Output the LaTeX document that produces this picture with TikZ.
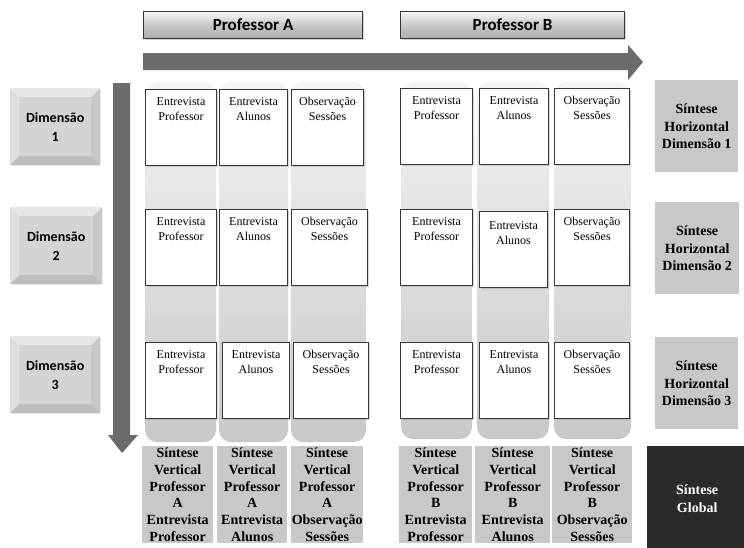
\documentclass[tikz,border=0pt]{standalone}
\usepackage{fontspec}
\setmainfont{Liberation Serif}
\newfontfamily\calibri{Carlito}
\usepackage{tikz}
\usetikzlibrary{calc,shadows}
\definecolor{sintgray}{HTML}{C8C8C8}
\definecolor{arrowgray}{HTML}{6B6B6B}
\definecolor{globaldark}{HTML}{2B2B2B}
\definecolor{boxline}{HTML}{363636}
\definecolor{striptop}{HTML}{F4F4F4}
\definecolor{stripbot}{HTML}{C8C8C8}
\newcommand{\celltext}[1]{\parbox[t][60pt][t]{66pt}{\centering #1}}
\tikzset{
  entbox/.style={draw=boxline, line width=1.1pt, fill=white, anchor=north west,
    minimum width=71pt, minimum height=76pt, inner xsep=0pt, inner ysep=8pt,
    font=\rmfamily\fontsize{12}{15}\selectfont,
    drop shadow={shadow xshift=1.2pt, shadow yshift=-1.2pt, opacity=0.3}},
  headbox/.style={draw=boxline, line width=1.2pt, anchor=north west,
    top color=white!85!sintgray, bottom color=black!32, middle color=sintgray,
    minimum width=219pt, minimum height=27pt, inner sep=0pt,
    font=\calibri\bfseries\fontsize{17}{20}\selectfont,
    drop shadow={shadow xshift=1.5pt, shadow yshift=-1.5pt, opacity=0.35}},
  dimbox/.style={fill=black!17, anchor=north west, minimum width=90pt, minimum height=77pt,
    inner sep=0pt, align=center, font=\calibri\bfseries\fontsize{14}{19}\selectfont,
    drop shadow={shadow xshift=1pt, shadow yshift=-1pt, opacity=0.15},
    path picture={
      \fill[white, opacity=0.45] (path picture bounding box.north west) -- (path picture bounding box.north east)
        -- ([shift={(-9pt,-9pt)}]path picture bounding box.north east) -- ([shift={(9pt,-9pt)}]path picture bounding box.north west) -- cycle;
      \fill[white, opacity=0.25] (path picture bounding box.north west) -- (path picture bounding box.south west)
        -- ([shift={(9pt,9pt)}]path picture bounding box.south west) -- ([shift={(9pt,-9pt)}]path picture bounding box.north west) -- cycle;
      \fill[black, opacity=0.06] (path picture bounding box.north east) -- (path picture bounding box.south east)
        -- ([shift={(-9pt,9pt)}]path picture bounding box.south east) -- ([shift={(-9pt,-9pt)}]path picture bounding box.north east) -- cycle;
      \fill[black, opacity=0.1] (path picture bounding box.south west) -- (path picture bounding box.south east)
        -- ([shift={(-9pt,9pt)}]path picture bounding box.south east) -- ([shift={(9pt,9pt)}]path picture bounding box.south west) -- cycle;
    }},
  vsint/.style={fill=sintgray, anchor=north west, inner xsep=0pt, inner ysep=1.5pt, align=center,
    font=\bfseries\fontsize{14}{16.8}\selectfont},
  hsint/.style={fill=sintgray, anchor=north west, minimum width=83pt, minimum height=92pt,
    inner sep=0pt, align=center, font=\bfseries\fontsize{14}{17.5}\selectfont},
  strip/.style={top color=striptop, bottom color=stripbot, rounded corners=12pt},
  bigarrow/.style={fill=arrowgray}
}
\begin{document}
\begin{tikzpicture}[x=1pt, y=-1pt]
  \useasboundingbox (0,0) rectangle (744,547);

  % column strips
  \shade[strip] (145,82) rectangle (216,442);
  \shade[strip] (219,82) rectangle (288,442);
  \shade[strip] (291,82) rectangle (366,442);
  \shade[strip] (401,82) rectangle (472,439);
  \shade[strip] (477,82) rectangle (549,439);
  \shade[strip] (554,82) rectangle (631,439);

  % big arrows
  \fill[bigarrow] (143,53) -- (628,53) -- (628,45) -- (643,62) -- (628,80) -- (628,70) -- (143,70) -- cycle;
  \fill[bigarrow] (113,83) -- (130,83) -- (130,435) -- (138,435) -- (122,453) -- (108,435) -- (113,435) -- cycle;

  % headers
  \node[headbox] (profA) at (143,11) {\raisebox{-2pt}{Professor A}};
  \node[headbox, minimum width=224pt] (profB) at (400,11) {Professor B};

  % dimensions
  \node[dimbox] (dim1) at (10,88) {Dimensão\\1};
  \node[dimbox, minimum width=92pt] (dim2) at (10,207) {Dimensão\\2};
  \node[dimbox] (dim3) at (10,336) {Dimensão\\3};

  % Professor A
  \node[entbox] (a11) at (145,89) {\celltext{Entrevista\\Professor}};
  \node[entbox, minimum width=68pt] (a12) at (219,89) {\celltext{Entrevista\\Alunos}};
  \node[entbox, minimum width=72pt] (a13) at (291,89) {\celltext{Observação\\Sessões}};
  \node[entbox] (a21) at (145,209) {\celltext{Entrevista\\Professor}};
  \node[entbox, minimum width=68pt] (a22) at (219,209) {\celltext{Entrevista\\Alunos}};
  \node[entbox, minimum width=76pt] (a23) at (291,209) {\celltext{Observação\\Sessões}};
  \node[entbox] (a31) at (145,342) {\celltext{Entrevista\\Professor}};
  \node[entbox, minimum width=67pt] (a32) at (222,342) {\celltext{Entrevista\\Alunos}};
  \node[entbox, minimum width=75pt] (a33) at (293,342) {\celltext{Observação\\Sessões}};

  % Professor B
  \node[entbox, minimum width=72pt] (b11) at (400,88) {\celltext{Entrevista\\Professor}};
  \node[entbox, minimum width=69pt] (b12) at (479,88) {\celltext{Entrevista\\Alunos}};
  \node[entbox, minimum width=75pt] (b13) at (554,88) {\celltext{Observação\\Sessões}};
  \node[entbox, minimum width=72pt] (b21) at (400,209) {\celltext{Entrevista\\Professor}};
  \node[entbox, minimum width=68pt] (b22) at (479,211) {\celltext{\vspace{2pt}Entrevista\\Alunos}};
  \node[entbox, minimum width=75pt] (b23) at (554,209) {\celltext{Observação\\Sessões}};
  \node[entbox, minimum width=72pt] (b31) at (400,342) {\celltext{Entrevista\\Professor}};
  \node[entbox, minimum width=69pt] (b32) at (479,342) {\celltext{Entrevista\\Alunos}};
  \node[entbox, minimum width=75pt] (b33) at (554,342) {\celltext{Observação\\Sessões}};

  % sinteses
  \node[hsint] (h1) at (655,80) {Síntese\\Horizontal\\Dimensão 1};
  \node[hsint, minimum width=84pt] (h2) at (655,202) {Síntese\\Horizontal\\Dimensão 2};
  \node[hsint] (h3) at (655,337) {Síntese\\Horizontal\\Dimensão 3};

  \node[vsint, text width=71pt] (va1) at (142,446) {Síntese\\Vertical\\Professor\\A\\Entrevista\\Professor};
  \node[vsint, text width=70pt] (va2) at (217,446) {Síntese\\Vertical\\Professor\\A\\Entrevista\\Alunos};
  \node[vsint, text width=72pt] (va3) at (291,446) {Síntese\\Vertical\\Professor\\A\\Observação\\Sessões};
  \node[vsint, text width=73pt] (vb1) at (399,446) {Síntese\\Vertical\\Professor\\B\\Entrevista\\Professor};
  \node[vsint, text width=75pt] (vb2) at (475,446) {Síntese\\Vertical\\Professor\\B\\Entrevista\\Alunos};
  \node[vsint, text width=80pt] (vb3) at (552,446) {Síntese\\Vertical\\Professor\\B\\Observação\\Sessões};

  \node[fill=globaldark, text=white, anchor=north west, minimum width=100pt, minimum height=105pt,
    align=center, font=\bfseries\fontsize{14}{17.5}\selectfont] (global) at (647,446) {Síntese\\Global};
\end{tikzpicture}
\end{document}
